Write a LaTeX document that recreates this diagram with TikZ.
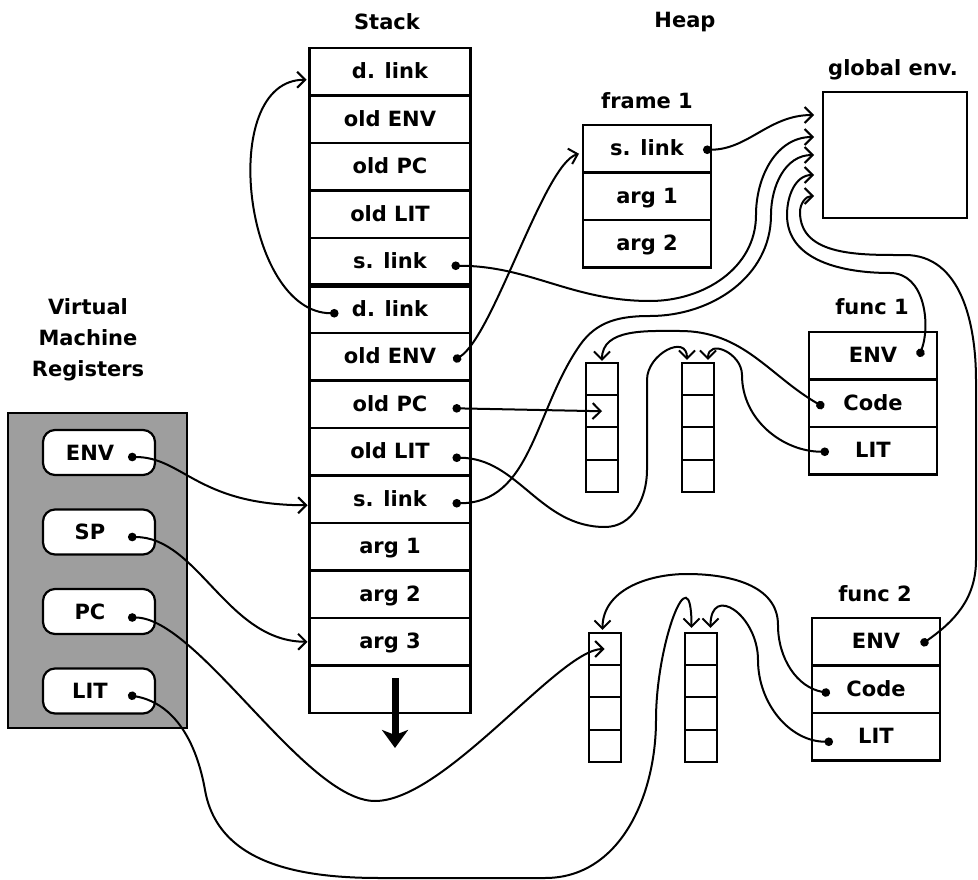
\documentclass[tikz,border=0pt]{standalone}
\usepackage{fontspec}
\setmainfont{DejaVu Sans}
\usetikzlibrary{arrows.meta, positioning, calc}

\begin{document}
\begin{tikzpicture}[
  x=1pt, y=1pt,
  font={\fontsize{21}{31}\selectfont\bfseries},
  box/.style={draw, line width=2.2pt, outer sep=0pt, inner sep=0pt},
  cell/.style={box, minimum width=161pt, minimum height=47.5pt,
               text height=17pt, text depth=3pt},
  hcell/.style={cell, minimum width=128pt},
  slot/.style={box, line width=2pt, minimum width=32pt, minimum height=32.25pt},
  reg/.style={box, fill=white, rounded corners=12pt,
              minimum width=112pt, minimum height=45pt},
  ptr/.style={line width=2pt,
              {Circle[length=8.5pt]}-{Straight Barb[length=8pt,width=16pt]}},
]
  \useasboundingbox (0,0) rectangle (978,-880);

  % stack
  \node (stk) at (387,-22) {Stack};
  \node[cell] (d1) at (390,-71.75) {d. link};
  \node[cell, below=0pt of d1] (env1) {old ENV};
  \node[cell, below=0pt of env1] (pc1) {old PC};
  \node[cell, below=0pt of pc1] (lit1) {old LIT};
  \node[cell, below=0pt of lit1] (sl1) {s. link};
  \node[cell, below=0pt of sl1] (d2) {d. link};
  \node[cell, below=0pt of d2] (env2) {old ENV};
  \node[cell, below=0pt of env2] (pc2) {old PC};
  \node[cell, below=0pt of pc2] (lit2) {old LIT};
  \node[cell, below=0pt of lit2] (sl2) {s. link};
  \node[cell, below=0pt of sl2] (a1) {arg 1};
  \node[cell, below=0pt of a1] (a2) {arg 2};
  \node[cell, below=0pt of a2] (a3) {arg 3};
  \node[cell, below=0pt of a3] (free) {};
  \draw[line width=5pt] (sl1.south west) -- (sl1.south east);
  \coordinate (grow) at ($(free.center)+(5,11)$);
  \coordinate (growend) at ($(free.south)+(5,-35)$);
  \draw[line width=7pt, -{Stealth[length=18pt,width=26pt,inset=5pt]}] (grow) -- (growend);

  % heap
  \node (heap) at (685,-22) {Heap};
  \node (frlbl) at (647,-101) {frame 1};
  \node[hcell] (fs) at (647,-148.75) {s. link};
  \node[hcell, below=0pt of fs] (fa1) {arg 1};
  \node[hcell, below=0pt of fa1] (fa2) {arg 2};

  \node (glbl) at (893,-70) {global env.};
  \node[box, minimum width=144pt, minimum height=126pt] (genv) at (895,-155) {};
  \foreach \k/\dy in {1/23, 2/45, 3/63, 4/83, 5/104}
    \coordinate (g\k) at ($(genv.north west)+(-9,-\dy)$);

  \node (f1lbl) at (872,-307) {func 1};
  \node[hcell] (f1env) at (873,-355.75) {ENV};
  \node[hcell, below=0pt of f1env] (f1code) {Code};
  \node[hcell, below=0pt of f1code] (f1lit) {LIT};

  \node (f2lbl) at (875,-594) {func 2};
  \node[hcell] (f2env) at (876,-641.75) {ENV};
  \node[hcell, below=0pt of f2env] (f2code) {Code};
  \node[hcell, below=0pt of f2code] (f2lit) {LIT};

  % code and literal vectors
  \foreach \n/\x/\y in {c1/602/-379, l1/698/-379, c2/604.5/-649, l2/700.5/-649} {
    \node[slot] (\n-1) at (\x,\y) {};
    \node[slot, below=0pt of \n-1] (\n-2) {};
    \node[slot, below=0pt of \n-2] (\n-3) {};
    \node[slot, below=0pt of \n-3] (\n-4) {};
  }

  % registers
  \node[box, fill=black!38, minimum width=179pt, minimum height=315pt] (vm) at (97.5,-570.5) {};
  \node[align=center] (vmlbl) at (88,-340) {Virtual\\Machine\\Registers};
  \node[reg, label={[xshift=-9pt]center:ENV}] (renv) at (99,-452.5) {};
  \node[reg, below=34.5pt of renv, label={[xshift=-9pt]center:SP}] (rsp) {};
  \node[reg, below=34.5pt of rsp, label={[xshift=-9pt]center:PC}] (rpc) {};
  \node[reg, below=34.5pt of rpc, label={[xshift=-9pt]center:LIT}] (rlit) {};

  % links
  \draw[ptr] ($(d2.west)+(29,-4)$) .. controls +(-95,0) and +(-90,0) .. ($(d1.west)+(-3,-8)$);
  \draw[ptr] ($(env2.east)+(-17,-4)$) .. controls +(40,25) and +(-35,-10) .. ($(fs.west)+(-4,-5)$);
  \draw[ptr] ($(sl1.east)+(-19,-4)$) to[out=0,in=180] (650,-301)
    to[out=0,in=270] (756,-215) to[out=90,in=180] (g2);
  \draw[ptr] ($(sl2.east)+(-18,-4)$) to[out=0,in=235] (580,-345)
    to[out=55,in=180] (650,-316) to[out=0,in=270] (771,-215) to[out=90,in=180] (g3);
  \draw[ptr] ($(fs.east)+(-8,-1)$) to[out=0,in=180] (g1);
  \draw[ptr] ($(f1env.east)+(-18,-1)$) to[out=70,in=0] (890,-273)
    to[out=180,in=270] (787,-215) to[out=90,in=180] (g4);
  \draw[ptr] ($(f2env.east)+(-19,-3)$) to[out=35,in=270] (976,-560) -- (976,-380)
    to[out=90,in=0] (905,-255) to[out=180,in=270] (800,-212) to[out=90,in=180] (g5);

  \draw[ptr] ($(f1code.west)+(15,-4)$) to[out=150,in=0] (680,-331)
    to[out=180,in=90] ($(c1-1.north)+(0,2)$);
  \draw[ptr] ($(f1lit.west)+(20,-1)$) to[out=180,in=270] (742,-375)
    to[out=90,in=90,looseness=1.5] ($(l1-1.north)+(10,3)$);
  \draw[ptr] ($(lit2.east)+(-18,-6)$) to[out=0,in=180] (605,-527)
    to[out=0,in=270] (647,-470) -- (647,-380)
    to[out=90,in=90,looseness=1.5] ($(l1-1.north)+(-11,3)$);
  \draw[ptr] ($(pc2.east)+(-18,-4)$) -- (c1-2.center);

  \draw[ptr] ($(renv.east)+(-27,-4.5)$) .. controls +(55,0) and +(-110,0) .. ($(sl2.west)+(-2,-6)$);
  \draw[ptr] ($(rsp.east)+(-27,-5)$) .. controls +(70,0) and +(-80,0) .. ($(a3.west)+(-2,0)$);
  \draw[ptr] ($(rpc.east)+(-27,-6)$) .. controls +(70,0) and +(-70,0) .. (375,-801)
    .. controls +(70,0) and +(-45,0) .. (c2-1.center);
  \draw[ptr] ($(rlit.east)+(-27,-4)$) to[out=-10,in=100] (205,-790)
    to[out=-80,in=180] (380,-878) -- (545,-878) to[out=0,in=270] (656,-720)
    to[out=90,in=90,looseness=2] ($(l2-1.north)+(-9,5)$);
  \draw[ptr] ($(f2code.west)+(18,-4)$) to[out=170,in=270] (778,-625)
    to[out=90,in=0] (687,-574) to[out=180,in=90] ($(c2-1.north)+(-2,3)$);
  \draw[ptr] ($(f2lit.west)+(21,-5)$) to[out=180,in=270] (758,-660)
    to[out=90,in=90,looseness=2] ($(l2-1.north)+(10,5)$);
\end{tikzpicture}
\end{document}
